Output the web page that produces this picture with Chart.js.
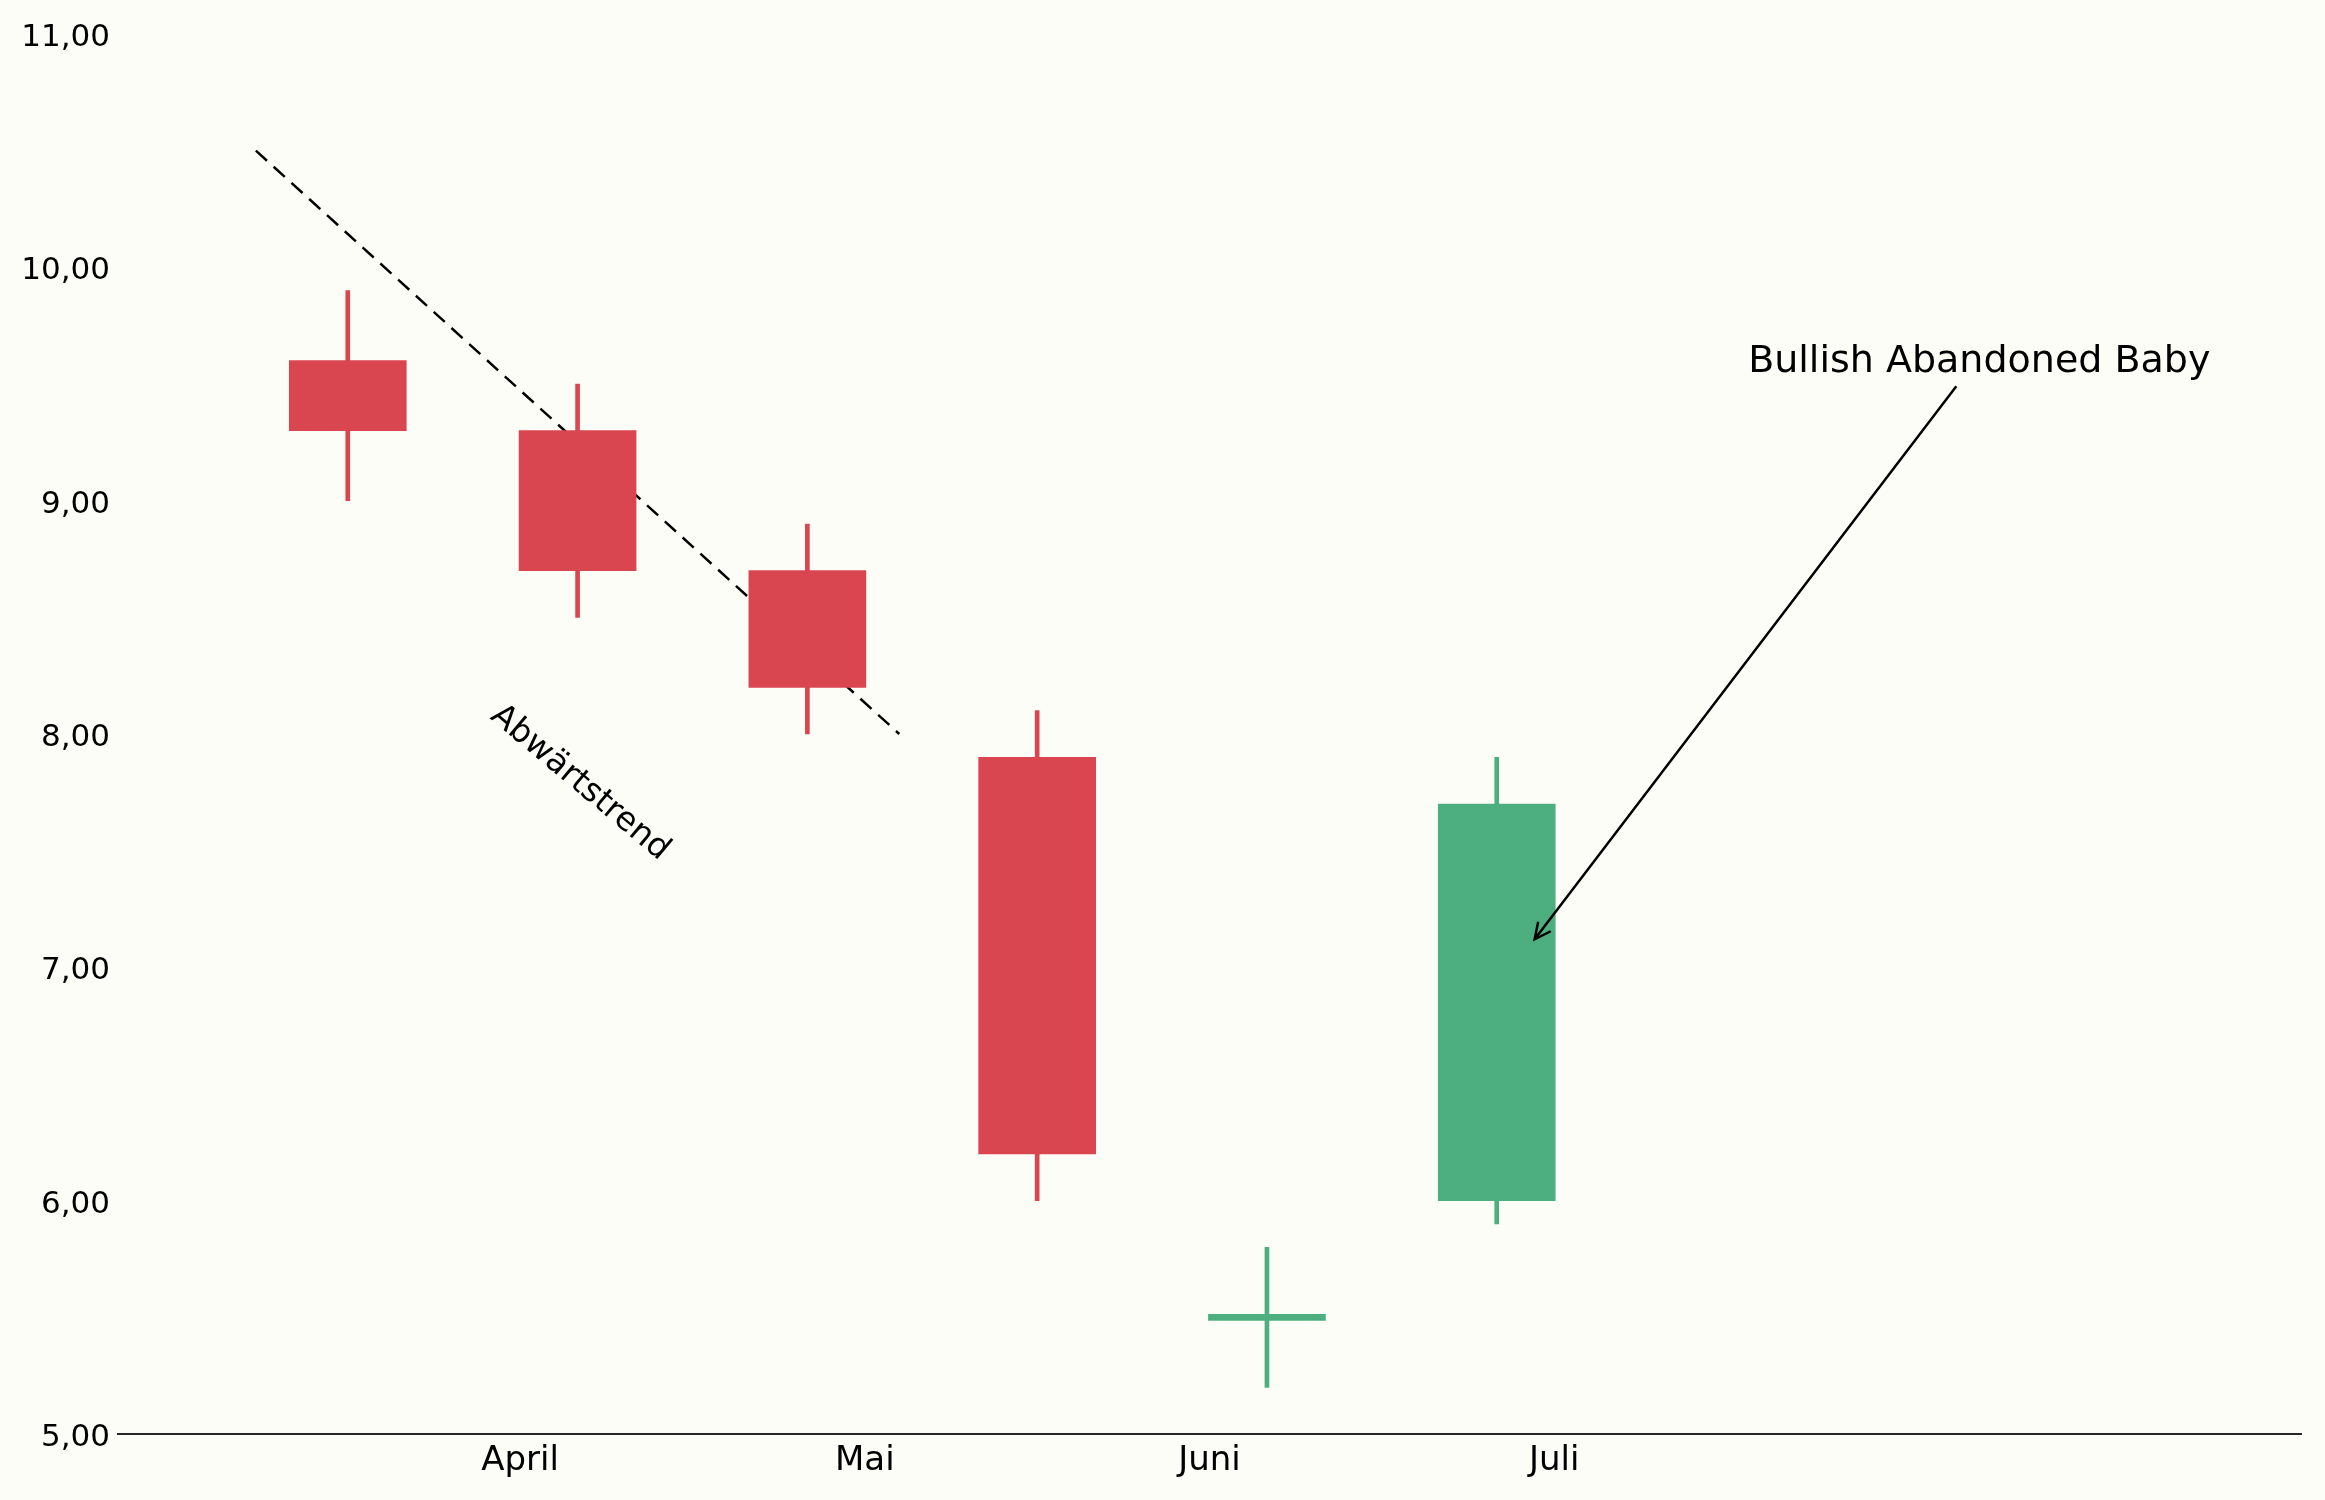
<!DOCTYPE html>
<html>
<head>
<meta charset="utf-8">
<script src="https://cdn.jsdelivr.net/npm/chart.js@4.4.1/dist/chart.umd.min.js"></script>
<style>
html, body { margin: 0; padding: 0; background: #fdfdf8; }
#wrap { width: 2325px; height: 1500px; }
</style>
</head>
<body>
<div id="wrap"><canvas id="chart" width="2325" height="1500"></canvas></div>
<script>
// candles: position on x and OHLC values
var candleX   = [0, 1, 2, 3, 4, 5];
var openVals  = [9.6, 9.3, 8.7, 7.9, 5.5, 6.0];
var closeVals = [9.3, 8.7, 8.2, 6.2, 5.5, 7.7];
var highVals  = [9.9, 9.5, 8.9, 8.1, 5.8, 7.9];
var lowVals   = [9.0, 8.5, 8.0, 6.0, 5.2, 5.9];

// x axis month labels
var monthPos    = [0.75, 2.25, 3.75, 5.25];
var monthLabels = ["April", "Mai", "Juni", "Juli"];

// y axis ticks
var yTicks = [5, 6, 7, 8, 9, 10, 11];

// downtrend line
var trendX = [-0.4, 2.4];
var trendY = [10.5, 8.0];

// annotations
var trendText = "Abwärtstrend";
var trendTextPos = [1.01, 7.79];
var patternText = "Bullish Abandoned Baby";
var patternTextPos = [7.1, 9.55];
var arrowFrom = [7.0, 9.49];
var arrowTo = [5.165, 7.12];

var upColor = "#4daf7f";
var downColor = "#d94650";

function candleColor(i) {
	return closeVals[i] >= openVals[i] ? upColor : downColor;
}

var bodyData = candleX.map(function (x, i) { return { x: x, y: [openVals[i], closeVals[i]] }; });
var wickData = candleX.map(function (x, i) { return { x: x, y: [lowVals[i], highVals[i]] }; });
var trendData = trendX.map(function (x, i) { return { x: x, y: trendY[i] }; });
var colors = candleX.map(function (x, i) { return candleColor(i); });

// doji (open == close): minBarLength is centred on the bar when base equals its value
var dojiIdx = openVals.findIndex(function (o, i) { return o === closeVals[i]; });
var dojiBase = dojiIdx >= 0 ? openVals[dojiIdx] : undefined;

var annotationPlugin = {
	id: "annotations",
	afterDatasetsDraw: function (chart) {
		var ctx = chart.ctx;
		var xs = chart.scales.x;
		var ys = chart.scales.y;
		ctx.save();
		ctx.fillStyle = "#000";

		// rotated trend label
		ctx.save();
		ctx.translate(xs.getPixelForValue(trendTextPos[0]), ys.getPixelForValue(trendTextPos[1]));
		ctx.rotate(40 * Math.PI / 180);
		ctx.font = "33px 'DejaVu Sans'";
		ctx.textAlign = "center";
		ctx.textBaseline = "middle";
		ctx.fillText(trendText, 0, 0);
		ctx.restore();

		// pattern label
		ctx.font = "38px 'DejaVu Sans'";
		ctx.textAlign = "center";
		ctx.textBaseline = "alphabetic";
		ctx.fillText(patternText, xs.getPixelForValue(patternTextPos[0]), ys.getPixelForValue(patternTextPos[1]));

		// arrow
		var x1 = xs.getPixelForValue(arrowFrom[0]), y1 = ys.getPixelForValue(arrowFrom[1]);
		var x2 = xs.getPixelForValue(arrowTo[0]), y2 = ys.getPixelForValue(arrowTo[1]);
		var ang = Math.atan2(y1 - y2, x1 - x2);
		var headLen = 18, headAng = 26 * Math.PI / 180;
		ctx.strokeStyle = "#000";
		ctx.lineWidth = 2.5;
		ctx.beginPath();
		ctx.moveTo(x1, y1);
		ctx.lineTo(x2, y2);
		ctx.moveTo(x2 + headLen * Math.cos(ang - headAng), y2 + headLen * Math.sin(ang - headAng));
		ctx.lineTo(x2, y2);
		ctx.lineTo(x2 + headLen * Math.cos(ang + headAng), y2 + headLen * Math.sin(ang + headAng));
		ctx.stroke();
		ctx.restore();
	}
};

var bgPlugin = {
	id: "bg",
	beforeDraw: function (chart) {
		var ctx = chart.ctx;
		ctx.save();
		ctx.fillStyle = "#fdfdf8";
		ctx.fillRect(0, 0, chart.width, chart.height);
		ctx.restore();
	}
};

Chart.defaults.font.family = "'DejaVu Sans'";
Chart.defaults.color = "#000";

var ctx = document.getElementById("chart");
var myChart = new Chart(ctx, {
	type: "bar",
	data: {
		datasets: [
			{
				label: "body",
				data: bodyData,
				backgroundColor: colors,
				barThickness: 117,
				minBarLength: 6,
				base: dojiBase,
				grouped: false,
				order: 0
			},
			{
				label: "wick",
				data: wickData,
				backgroundColor: colors,
				barThickness: 4,
				grouped: false,
				order: 1
			},
			{
				type: "line",
				label: "trend",
				data: trendData,
				borderColor: "#000",
				borderWidth: 2.5,
				borderDash: [15, 9],
				pointRadius: 0,
				fill: false,
				order: 2
			}
		]
	},
	options: {
		responsive: false,
		devicePixelRatio: 1,
		animation: false,
		layout: { padding: { top: 34, right: 24, left: 0, bottom: 0 } },
		plugins: { legend: { display: false }, tooltip: { enabled: false } },
		scales: {
			x: {
				type: "linear",
				min: -1,
				max: 8.5,
				offset: false,
				grid: { display: false, offset: false, drawTicks: false },
				border: { display: true, color: "#262626", width: 2 },
				afterBuildTicks: function (scale) {
					scale.ticks = monthPos.map(function (v) { return { value: v }; });
				},
				afterFit: function (scale) { scale.height = 66; },
				ticks: {
					autoSkip: false,
					maxRotation: 0,
					padding: 7,
					font: { size: 34 },
					callback: function (value) {
						var i = monthPos.indexOf(value);
						return i >= 0 ? monthLabels[i] : "";
					}
				}
			},
			y: {
				min: 5,
				max: 11,
				grid: { display: false, drawTicks: false },
				border: { display: false },
				afterBuildTicks: function (scale) {
					scale.ticks = yTicks.map(function (v) { return { value: v }; });
				},
				afterFit: function (scale) { scale.width = 118; },
				ticks: {
					padding: 8,
					labelOffset: 4,
					font: { size: 31 },
					callback: function (value) {
						return value.toFixed(2).replace(".", ",");
					}
				}
			}
		}
	},
	plugins: [bgPlugin, annotationPlugin]
});
</script>
</body>
</html>
